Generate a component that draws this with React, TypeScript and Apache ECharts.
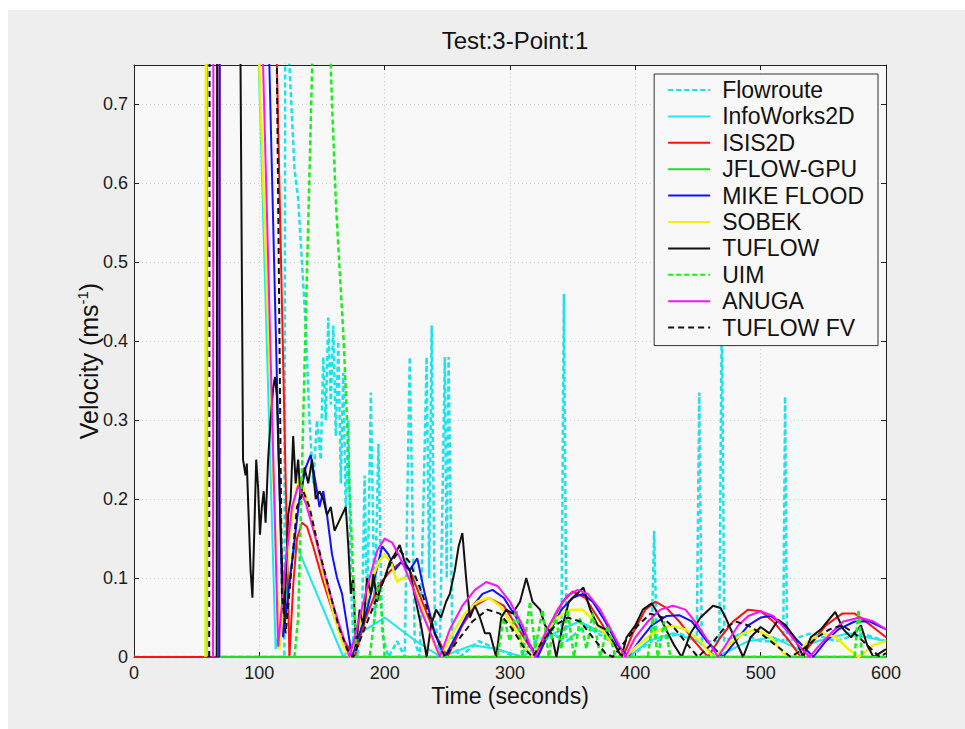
import React, { useEffect, useRef } from "react";
import * as echarts from "echarts";

// ---------- data (time in seconds, velocity in m/s) ----------
const chartTitle = "Test:3-Point:1";
const xTickValues = [0, 100, 200, 300, 400, 500, 600];
const yTickValues = [0, 0.1, 0.2, 0.3, 0.4, 0.5, 0.6, 0.7];
const seriesNames = ["Flowroute", "InfoWorks2D", "ISIS2D", "JFLOW-GPU", "MIKE FLOOD", "SOBEK", "TUFLOW", "UIM", "ANUGA", "TUFLOW FV"];

const flowroute = [
  [0, 0], [120, 0], [121, 1.2], [124, 0.75], [128, 0.62], [131, 0.58], [134, 0.5], [137, 0.42], [140, 0.3], [143, 0.22],
  [146, 0.3], [149, 0.25], [151, 0.38], [153, 0.3], [155, 0.43], [157, 0.32], [159, 0.42], [161, 0.28], [163, 0.4],
  [165, 0.22], [167, 0.36], [169, 0.18], [171, 0.3], [173, 0.1], [175, 0.02], [178, 0], [182, 0.05], [184, 0.23],
  [186, 0.05], [189, 0.335], [192, 0.05], [195, 0.27], [198, 0.03], [203, 0], [210, 0.02], [216, 0], [220, 0.38],
  [224, 0.02], [228, 0], [231, 0.2], [233.5, 0.38], [235.5, 0.1], [237.5, 0.42], [240, 0.05], [244, 0], [248, 0.38],
  [249.5, 0.1], [251, 0.38], [254, 0.02], [260, 0], [275, 0.02], [290, 0.01], [305, 0], [320, 0.02], [335, 0.03],
  [341, 0.02], [343, 0.46], [345, 0.02], [360, 0.04], [380, 0.02], [395, 0], [413, 0.02], [415, 0.16], [417, 0.02],
  [435, 0.03], [449, 0.02], [451, 0.335], [453, 0.02], [467, 0.02], [469, 0.45], [471, 0.02], [485, 0.03], [500, 0.02],
  [518, 0.02], [519.5, 0.33], [521, 0.02], [540, 0.03], [560, 0.02], [580, 0.03], [600, 0.02],
];

const infoWorks2D = [
  [0, 0], [58, 0], [58.5, 1.2], [97, 1.2], [99, 0.78], [113, 0.01], [129, 0.144], [167, 0], [180, 0.03], [200, 0.05],
  [225, 0.02], [245, 0], [270, 0.015], [290, 0.01], [310, 0], [335, 0.03], [355, 0.045], [375, 0.03], [395, 0],
  [410, 0.02], [430, 0.03], [450, 0.02], [465, 0], [490, 0.02], [510, 0.025], [530, 0.01], [545, 0.02], [570, 0.03], [600, 0.02],
];

const isis2D = [
  [0, 0], [68, 0], [68.5, 1.2], [112, 1.2], [114, 0.75], [124, 0], [127, 0.09], [130, 0.15], [134, 0.17], [138, 0.165],
  [143, 0.14], [150, 0.1], [160, 0.05], [168, 0.02], [176, 0], [185, 0.05], [195, 0.09], [205, 0.11], [213, 0.12],
  [220, 0.11], [230, 0.07], [240, 0.03], [250, 0], [262, 0.04], [272, 0.065], [283, 0.075], [295, 0.065], [305, 0.04],
  [315, 0.015], [322, 0], [332, 0.04], [342, 0.07], [350, 0.083], [360, 0.075], [370, 0.05], [382, 0.02], [390, 0],
  [398, 0.03], [408, 0.06], [416, 0.07], [425, 0.062], [435, 0.045], [447, 0.02], [458, 0], [468, 0.025], [478, 0.045],
  [490, 0.06], [500, 0.058], [510, 0.045], [522, 0.022], [532, 0], [542, 0.02], [552, 0.04], [565, 0.055], [575, 0.055],
  [588, 0.04], [600, 0.025],
];

const jflowGpu = [
  [68, 0], [200, 0], [400, 0], [600, 0],
];

const mikeFlood = [
  [68, 0], [68.5, 1.2], [106, 1.2], [108, 0.75], [119, 0.025], [126, 0.12], [132, 0.2], [137, 0.24], [141, 0.256],
  [145, 0.22], [148, 0.19], [151, 0.21], [154, 0.18], [158, 0.13], [162, 0.1], [166, 0.08], [170, 0.04], [174, 0],
  [180, 0.03], [186, 0.06], [192, 0.1], [198, 0.14], [203, 0.13], [208, 0.11], [213, 0.12], [220, 0.11], [226, 0.125],
  [232, 0.08], [240, 0.03], [248, 0], [258, 0.03], [268, 0.06], [278, 0.08], [286, 0.085], [295, 0.075], [305, 0.05],
  [314, 0.02], [322, 0], [331, 0.03], [341, 0.06], [350, 0.075], [358, 0.08], [366, 0.07], [376, 0.045], [386, 0.015],
  [394, 0], [403, 0.02], [413, 0.04], [425, 0.052], [435, 0.053], [445, 0.045], [457, 0.02], [470, 0], [480, 0.02],
  [490, 0.04], [500, 0.05], [508, 0.052], [518, 0.04], [530, 0.02], [542, 0], [552, 0.02], [562, 0.035], [575, 0.045],
  [587, 0.045], [600, 0.035],
];

const sobek = [
  [57, 0], [57.5, 1.2], [98, 1.2], [100, 0.75], [116, 0.01], [124, 0.15], [128, 0.2], [132, 0.228], [138, 0.2],
  [145, 0.15], [152, 0.1], [160, 0.05], [167, 0.015], [172, 0], [180, 0.04], [188, 0.09], [195, 0.12], [200, 0.13],
  [205, 0.12], [210, 0.095], [214, 0.1], [220, 0.1], [228, 0.07], [236, 0.03], [244, 0], [254, 0.03], [264, 0.055],
  [274, 0.07], [283, 0.075], [292, 0.065], [302, 0.04], [311, 0.015], [318, 0], [328, 0.03], [338, 0.05], [348, 0.06],
  [358, 0.06], [368, 0.045], [380, 0.02], [392, 0], [402, 0.015], [414, 0.03], [428, 0.04], [440, 0.035], [452, 0.02],
  [462, 0], [474, 0.015], [486, 0.03], [496, 0.035], [508, 0.025], [518, 0.005], [526, 0], [538, 0.02], [550, 0.03],
  [560, 0.025], [570, 0.01], [578, 0], [590, 0.015], [600, 0.02],
];

const tuflow = [
  [66, 0], [66.5, 1.2], [84, 1.2], [85, 0.75], [87, 0.25], [89, 0.23], [90, 0.245], [91, 0.2], [93, 0.11],
  [94.5, 0.075], [96, 0.16], [97.5, 0.25], [99, 0.215], [100.5, 0.155], [102, 0.19], [103.5, 0.21], [105, 0.17],
  [107, 0.25], [109, 0.3], [111, 0.34], [112.5, 0.355], [114, 0.33], [116, 0.22], [118, 0.12], [120, 0.05], [123, 0.18],
  [125, 0.2], [127, 0.28], [129, 0.22], [131, 0.25], [133, 0.2], [136, 0.24], [139, 0.22], [142, 0.25], [145, 0.2],
  [148, 0.21], [151, 0.2], [154, 0.18], [157, 0.19], [160, 0.16], [163, 0.17], [166, 0.18], [169, 0.19], [171, 0.14],
  [173, 0.08], [175, 0.1], [177, 0.01], [180, 0.06], [183, 0.04], [186, 0.1], [189, 0.08], [191, 0.105], [194, 0.07],
  [197, 0.09], [200, 0.1], [204, 0.12], [208, 0.13], [212, 0.142], [216, 0.12], [220, 0.11], [225, 0.07], [229, 0.04],
  [233.5, 0], [237, 0.04], [241, 0.06], [245, 0.05], [249, 0.07], [252, 0.08], [256, 0.11], [259, 0.14], [262, 0.157],
  [265, 0.1], [268, 0.05], [272, 0.065], [276, 0.05], [280, 0.03], [284, 0.03], [289, 0], [293, 0.05], [297, 0.06],
  [302, 0.055], [308, 0.07], [313, 0.1], [318, 0.07], [324, 0.06], [328, 0.04], [333, 0.03], [337, 0], [342, 0.04],
  [347, 0.07], [352, 0.078], [358.6, 0.088], [364, 0.06], [370, 0.04], [376, 0.035], [382, 0.02], [389, 0],
  [393, 0.025], [400, 0.04], [406, 0.06], [413, 0.068], [420, 0.05], [426, 0.03], [431, 0.015], [437, 0], [444, 0.03],
  [452, 0.05], [462, 0.065], [468, 0.062], [472, 0.05], [479, 0.025], [486, 0], [492, 0.025], [500, 0.038], [507, 0.03],
  [514, 0.047], [520, 0.04], [527, 0.025], [534, 0], [540, 0.025], [548, 0.035], [559.5, 0.057], [566, 0.035],
  [572, 0.025], [580, 0.04], [585, 0.015], [590, 0], [595, 0.005], [600, 0.01],
];

const uim = [
  [128, 0], [131, 0.05], [143, 0.8], [145, 1.0], [150, 1.0], [156, 0.8], [158, 0.7], [161, 0.58], [163, 0.52],
  [167, 0.41], [170, 0.3], [172, 0.21], [174, 0.14], [176, 0.06], [178, 0], [188, 0], [192, 0.05], [195, 0.095],
  [198, 0.05], [200, 0], [290, 0], [295, 0.05], [300, 0.02], [305, 0.06], [310, 0], [316, 0.07], [320, 0.01],
  [326, 0.06], [331, 0], [336, 0.055], [341, 0.01], [346, 0.06], [351, 0], [356, 0.05], [361, 0.01], [366, 0.055],
  [372, 0], [378, 0.04], [384, 0], [410, 0], [414, 0.05], [418, 0], [423, 0.045], [428, 0], [575, 0], [578, 0.06],
  [581, 0], [600, 0],
];

const anuga = [
  [63, 0], [63.5, 1.2], [101, 1.2], [103, 0.75], [115, 0.013], [121, 0.12], [126, 0.19], [131, 0.217],
  [137, 0.195], [145, 0.15], [153, 0.1], [160, 0.06], [166, 0.03], [172, 0], [180, 0.05], [188, 0.1], [194, 0.135],
  [200, 0.15], [206, 0.145], [214, 0.12], [222, 0.09], [230, 0.055], [238, 0.025], [244, 0], [252, 0.035], [262, 0.065],
  [272, 0.085], [281, 0.095], [290, 0.09], [300, 0.07], [310, 0.04], [316, 0.015], [320, 0], [328, 0.03], [338, 0.06],
  [346, 0.078], [354, 0.085], [362, 0.08], [372, 0.06], [382, 0.03], [392, 0], [400, 0.025], [410, 0.045], [420, 0.06],
  [430, 0.065], [440, 0.06], [450, 0.04], [460, 0.015], [466, 0], [474, 0.02], [482, 0.04], [490, 0.052], [500, 0.058],
  [510, 0.052], [520, 0.035], [530, 0.015], [539, 0], [547, 0.015], [556, 0.03], [566, 0.045], [579, 0.05],
  [590, 0.045], [600, 0.035],
];

const tuflowFV = [
  [60, 0], [60.5, 1.2], [112, 1.2], [114, 0.75], [118, 0.08], [121, 0.03], [125, 0.1], [130, 0.19], [135, 0.21],
  [140, 0.19], [147, 0.14], [155, 0.09], [163, 0.04], [170, 0.01], [175, 0], [185, 0.04], [195, 0.08], [205, 0.12],
  [212, 0.135], [220, 0.12], [230, 0.08], [240, 0.03], [248, 0], [258, 0.02], [270, 0.045], [282, 0.06], [292, 0.055],
  [302, 0.035], [312, 0.01], [318, 0], [326, 0.02], [336, 0.04], [346, 0.05], [356, 0.045], [366, 0.025], [376, 0.005],
  [382, 0], [392, 0.02], [402, 0.04], [412, 0.055], [422, 0.05], [432, 0.035], [442, 0.015], [450, 0], [460, 0.015],
  [470, 0.035], [480, 0.045], [490, 0.04], [500, 0.03], [512, 0.015], [524, 0], [534, 0.01], [545, 0.025], [555, 0.035],
  [565, 0.04], [575, 0.03], [585, 0.015], [595, 0], [600, 0.005],
];

const seriesData = [flowroute, infoWorks2D, isis2D, jflowGpu, mikeFlood, sobek, tuflow, uim, anuga, tuflowFV];

// ---------- styles ----------
const lineStyles: any[] = [
  { color: "#19e3ec", width: 2.5, type: [5, 3] },
  { color: "#1de9e9", width: 2 },
  { color: "#ff1010", width: 2 },
  { color: "#22dd22", width: 2.5 },
  { color: "#1010ff", width: 2 },
  { color: "#f2f200", width: 2.5 },
  { color: "#111111", width: 2 },
  { color: "#19f019", width: 2.5, type: [5, 3] },
  { color: "#ff10ff", width: 2 },
  { color: "#111111", width: 2, type: [6, 4] },
];

const FONT = "'Liberation Sans', Arial, Helvetica, sans-serif";

export default function App() {
  const ref = useRef<HTMLDivElement>(null);

  useEffect(() => {
    if (!ref.current) return;
    const chart = echarts.init(ref.current, null, { renderer: "svg" });

    const axisLineStyle = { color: "#222", width: 1 };
    const yLabelFmt = (v: number) => {
      const hit = yTickValues.find((t) => Math.abs(t - v) < 1e-9);
      return hit === undefined ? "" : String(hit);
    };

    const option: any = {
      animation: false,
      backgroundColor: "transparent",
      textStyle: { fontFamily: FONT },
      title: {
        text: chartTitle,
        left: 502,
        textAlign: "center",
        top: 13,
        textStyle: { fontFamily: FONT, fontSize: 24, fontWeight: "normal", color: "#111" },
      },
      grid: {
        left: 126,
        right: 79,
        top: 55,
        bottom: 72,
        show: true,
        backgroundColor: "#f8f8f8",
        borderWidth: 0,
      },
      legend: {
        orient: "vertical",
        right: 87,
        top: 64,
        data: seriesNames,
        backgroundColor: "#f8f8f8",
        borderColor: "#333",
        borderWidth: 1,
        borderRadius: 0,
        padding: [4, 14, 6, 13],
        itemWidth: 42,
        itemHeight: 12,
        itemGap: 2.4,
        itemStyle: { opacity: 0 },
        textStyle: { fontFamily: FONT, fontSize: 23, lineHeight: 24, color: "#111", padding: [0, 0, 0, 7] },
      },
      xAxis: [
        {
          type: "value",
          min: xTickValues[0],
          max: xTickValues[xTickValues.length - 1],
          interval: 100,
          position: "bottom",
          name: "Time (seconds)",
          nameLocation: "middle",
          nameGap: 39,
          nameMoveOverlap: false,
          nameTextStyle: { fontFamily: FONT, fontSize: 23, color: "#111", verticalAlign: "middle" },
          axisLine: { show: true, onZero: false, lineStyle: axisLineStyle },
          axisTick: { show: true, inside: true, length: 5, lineStyle: axisLineStyle },
          axisLabel: { fontFamily: FONT, fontSize: 18, color: "#1a1a1a", margin: 7 },
          splitLine: { show: true, lineStyle: { color: "#d4d4d4", type: [1, 3], width: 1 } },
        },
        {
          type: "value",
          min: xTickValues[0],
          max: xTickValues[xTickValues.length - 1],
          interval: 100,
          position: "top",
          axisLine: { show: true, onZero: false, lineStyle: axisLineStyle },
          axisTick: { show: true, inside: true, length: 5, lineStyle: axisLineStyle },
          axisLabel: { show: false },
          splitLine: { show: false },
        },
      ],
      yAxis: [
        {
          type: "value",
          min: 0,
          max: 0.75,
          interval: 0.1,
          position: "left",
          name: "{a|Velocity (ms}{b|-1}{a|)}",
          nameLocation: "middle",
          nameRotate: 90,
          nameGap: 45,
          nameMoveOverlap: false,
          nameTextStyle: {
            verticalAlign: "middle",
            rich: {
              a: { fontFamily: FONT, fontSize: 25, color: "#111", lineHeight: 28 },
              b: { fontFamily: FONT, fontSize: 15, color: "#111", verticalAlign: "top", lineHeight: 15 },
            },
          },
          axisLine: { show: true, onZero: false, lineStyle: axisLineStyle },
          axisTick: { show: true, inside: true, length: 5, lineStyle: axisLineStyle },
          axisLabel: { fontFamily: FONT, fontSize: 18, color: "#1a1a1a", margin: 6, formatter: yLabelFmt },
          splitLine: { show: true, lineStyle: { color: "#d4d4d4", type: [1, 3], width: 1 } },
        },
        {
          type: "value",
          min: 0,
          max: 0.75,
          interval: 0.1,
          position: "right",
          axisLine: { show: true, onZero: false, lineStyle: axisLineStyle },
          axisTick: { show: true, inside: true, length: 5, lineStyle: axisLineStyle },
          axisLabel: { show: false },
          splitLine: { show: false },
        },
      ],
      series: seriesNames.map((name, i) => ({
        name,
        type: "line",
        xAxisIndex: 0,
        yAxisIndex: 0,
        data: seriesData[i],
        symbol: "none",
        showSymbol: false,
        smooth: false,
        clip: true,
        lineStyle: lineStyles[i],
        itemStyle: { color: lineStyles[i].color },
        z: 2 + i * 0.01,
      })),
    };

    chart.setOption(option);
    return () => chart.dispose();
  }, []);

  return (
    <div
      ref={ref}
      style={{
        position: "absolute",
        left: 8,
        top: 10,
        width: 957,
        height: 719,
        background: "#eeeeee",
      }}
    />
  );
}
